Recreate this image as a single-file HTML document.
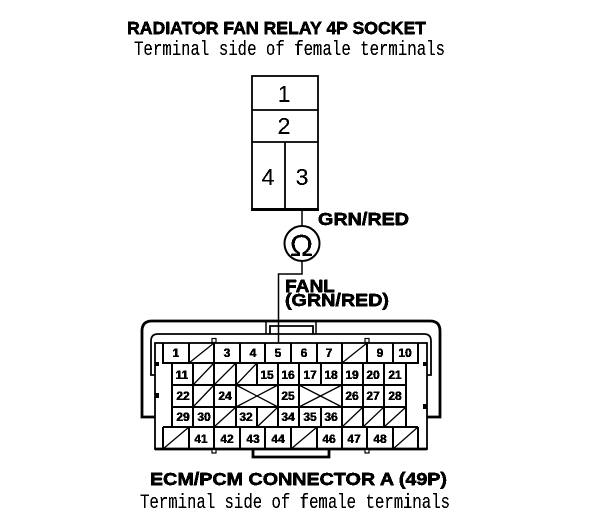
<!DOCTYPE html>
<html><head><meta charset="utf-8"><style>
html,body{margin:0;padding:0;background:#fff;width:608px;height:532px;overflow:hidden}
svg{display:block}
.b{font-family:"Liberation Sans",sans-serif;font-weight:bold;fill:#000;stroke:#000;stroke-width:.5px}
.s{font-family:"Liberation Mono",monospace;fill:#000}
.n{font-family:"Liberation Sans",sans-serif;font-size:23px;fill:#000;text-anchor:middle}
.c text{font-family:"Liberation Sans",sans-serif;font-weight:bold;font-size:12px;fill:#000;stroke:#000;stroke-width:.35px;text-anchor:middle}
</style></head><body>
<svg width="608" height="532" viewBox="0 0 608 532" xmlns="http://www.w3.org/2000/svg">
<defs><filter id="t" x="0" y="0" width="608" height="532" filterUnits="userSpaceOnUse" color-interpolation-filters="sRGB"><feComponentTransfer><feFuncA type="discrete" tableValues="0 1 1"/></feComponentTransfer></filter></defs>

<!-- relay socket -->
<g fill="none" stroke="#000" stroke-width="1.800">
<rect x="252" y="76" width="66" height="133"/>
<path d="M252 110H318M252 142H318M285 142V209"/>
</g>
<path d="M251 209.500H319" stroke="#000" stroke-width="3"/>
<path d="M302 209V226M302 261V274H278.500V344" fill="none" stroke="#000" stroke-width="1.500"/>
<circle cx="302" cy="243.500" r="17.500" fill="#fff" stroke="#000" stroke-width="2"/>

<!-- connector outer shell -->
<g fill="none" stroke="#000">
<path d="M155 417H142V331Q142 321 152 321H430Q440 321 440 331V417H427" stroke-width="2.800"/>
<path d="M155 375H151V341Q151 334 158 334H424Q431 334 431 341V375H427" stroke-width="1.800"/>
<path d="M266 321V334M316 321V334" stroke-width="1.500"/>
<path d="M270 334V326H313V334" stroke-width="1.800"/>
<path d="M253 449V457H329V449" stroke-width="2.800"/>
</g>
<rect x="155" y="343" width="272" height="106" fill="#fff" stroke="#000" stroke-width="1.800"/>
<path d="M155 449H427" stroke="#000" stroke-width="2.800"/>
<g fill="#000"><rect x="155" y="362" width="4" height="4"/><rect x="155" y="393" width="4" height="5"/><rect x="423" y="362" width="4" height="4"/><rect x="423" y="404" width="4" height="5"/></g>
<g fill="#fff" stroke="#000" stroke-width="1.200"><rect x="212" y="338.500" width="4" height="4"/><rect x="365" y="338.500" width="4" height="4"/><rect x="212" y="449.500" width="4" height="3.500"/><rect x="365" y="449.500" width="4" height="3.500"/></g>

<!-- grid lines -->
<g fill="none" stroke="#000" stroke-width="2">
<path d="M163 343V363H418V343M163 427V449M418 427V449M172 363V427M406 363V427M163 427H418M172 385H406M172 407H406"/>
<path d="M189 343V363M214 343V363M240 343V363M265 343V363M291 343V363M317 343V363M342 343V363M367 343V363M393 343V363"/>
<path d="M193 363V385M214 363V385M236 363V385M257 363V385M278 363V385M299 363V385M321 363V385M342 363V385M363 363V385M384 363V385"/>
<path d="M193 385V407M214 385V407M236 385V407M278 385V407M299 385V407M342 385V407M363 385V407M384 385V407"/>
<path d="M193 407V427M214 407V427M236 407V427M257 407V427M278 407V427M299 407V427M321 407V427M342 407V427M363 407V427M384 407V427"/>
<path d="M189 427V449M214 427V449M240 427V449M265 427V449M291 427V449M317 427V449M342 427V449M367 427V449M393 427V449"/>
</g>
<!-- diagonals -->
<g stroke="#000" stroke-width="1.300" fill="none">
<path d="M189 363L214 343M342 363L367 343"/>
<path d="M193 385L214 363M214 385L236 363M236 385L257 363"/>
<path d="M193 407L214 385"/>
<path d="M236 385L278 407M236 407L278 385M299 385L342 407M299 407L342 385"/>
<path d="M214 427L236 407M257 427L278 407M342 427L363 407M363 427L384 407M384 427L406 407"/>
<path d="M163 449L189 427M291 449L317 427M393 449L418 427"/>
</g>

<g filter="url(#t)">
<text class="b" x="127" y="34" font-size="17.500" textLength="299" lengthAdjust="spacingAndGlyphs">RADIATOR FAN RELAY 4P SOCKET</text>
<text class="s" x="134" y="55" font-size="20" textLength="311" lengthAdjust="spacingAndGlyphs">Terminal side of female terminals</text>
<text class="n" x="284" y="102">1</text>
<text class="n" x="284" y="134">2</text>
<text class="n" x="268" y="185">4</text>
<text class="n" x="302" y="185">3</text>
<text class="b" x="318" y="225" font-size="17.500" textLength="91" lengthAdjust="spacingAndGlyphs">GRN/RED</text>
<text class="b" x="285" y="292" font-size="17.500" textLength="50" lengthAdjust="spacingAndGlyphs">FANL</text>
<text class="b" x="285" y="306" font-size="17.500" textLength="104" lengthAdjust="spacingAndGlyphs">(GRN/RED)</text>
<text x="301.500" y="256" font-family="Liberation Sans,sans-serif" font-size="31" text-anchor="middle" fill="#000">Ω</text>
<text class="b" x="150" y="485" font-size="17.500" textLength="297" lengthAdjust="spacingAndGlyphs">ECM/PCM CONNECTOR A (49P)</text>
<text class="s" x="140" y="508" font-size="20" textLength="310" lengthAdjust="spacingAndGlyphs">Terminal side of female terminals</text>
<g class="c">
<text x="176" y="357">1</text><text x="227" y="357">3</text><text x="253" y="357">4</text><text x="278" y="357">5</text><text x="304" y="357">6</text><text x="329" y="357">7</text><text x="380" y="357">9</text><text x="405" y="357">10</text>
<text x="182" y="379">11</text><text x="267" y="379">15</text><text x="288" y="379">16</text><text x="310" y="379">17</text><text x="331" y="379">18</text><text x="352" y="379">19</text><text x="373" y="379">20</text><text x="395" y="379">21</text>
<text x="183" y="400">22</text><text x="225" y="400">24</text><text x="288" y="400">25</text><text x="352" y="400">26</text><text x="373" y="400">27</text><text x="395" y="400">28</text>
<text x="183" y="421">29</text><text x="204" y="421">30</text><text x="246" y="421">32</text><text x="288" y="421">34</text><text x="310" y="421">35</text><text x="331" y="421">36</text>
<text x="201" y="443">41</text><text x="227" y="443">42</text><text x="253" y="443">43</text><text x="278" y="443">44</text><text x="329" y="443">46</text><text x="354" y="443">47</text><text x="380" y="443">48</text>
</g>
</g>
</svg>
</body></html>
